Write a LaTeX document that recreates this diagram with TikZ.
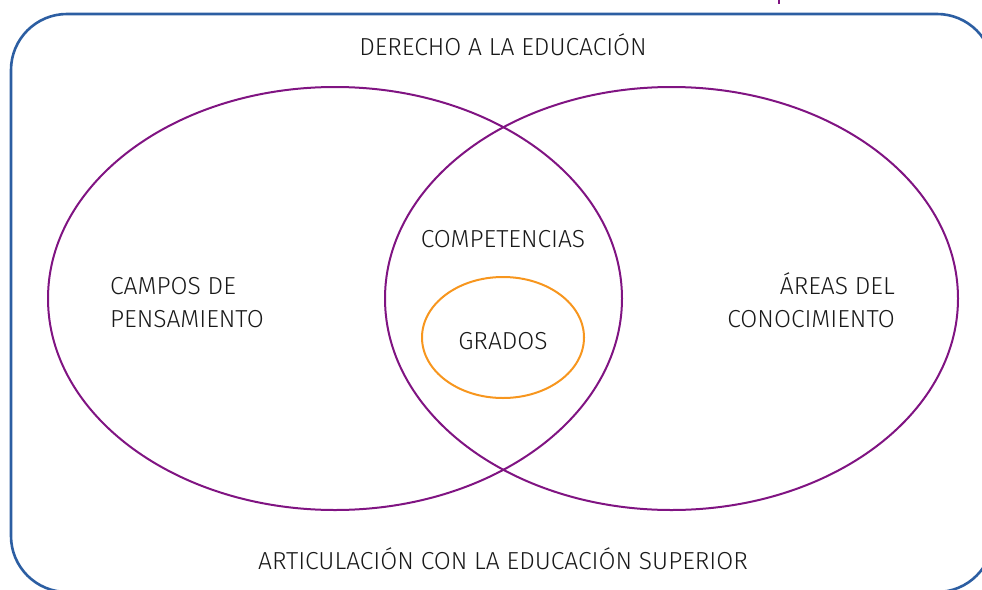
\documentclass[tikz,border=0pt]{standalone}
\usepackage{fontspec}
\setmainfont{Fira Sans}[UprightFont={* Light}]
\definecolor{frameblue}{RGB}{44,94,162}
\definecolor{vpurple}{RGB}{128,20,130}
\definecolor{vorange}{RGB}{247,150,30}
\begin{document}
\begin{tikzpicture}[x=1pt,y=-1pt,
  lbl/.style={font=\fontsize{24.6}{33}\selectfont, text=black!90, inner sep=0pt},
]
\useasboundingbox (0,0) rectangle (982,589);
\begin{scope}
\clip (0,0) rectangle (982,589);
\draw[frameblue, line width=2.6pt, rounded corners=56pt] (11,14) rectangle (993,592);
\coordinate (tick) at (779,0);
\draw[vpurple, line width=1.5pt] (tick) -- ++(0,4);
\end{scope}
\draw[vpurple, line width=2pt] (335,298.5) ellipse [x radius=287, y radius=211.5];
\draw[vpurple, line width=2pt] (671.5,298.5) ellipse [x radius=286.5, y radius=211.5];
\draw[vorange, line width=2pt] (503,337.5) ellipse [x radius=81, y radius=60.5];
\node[lbl] (derecho) at (503,45) {DERECHO A LA EDUCACIÓN};
\node[lbl] (comp) at (503,239) {COMPETENCIAS};
\node[lbl] (grados) at (503,341) {GRADOS};
\node[lbl, align=left, anchor=west] (campos) at (110,302.5) {CAMPOS DE\\PENSAMIENTO};
\node[lbl, align=right, anchor=east] (areas) at (895,300.5) {ÁREAS DEL\\CONOCIMIENTO};
\node[lbl] (artic) at (503,559) {ARTICULACIÓN CON LA EDUCACIÓN SUPERIOR};
\end{tikzpicture}
\end{document}
